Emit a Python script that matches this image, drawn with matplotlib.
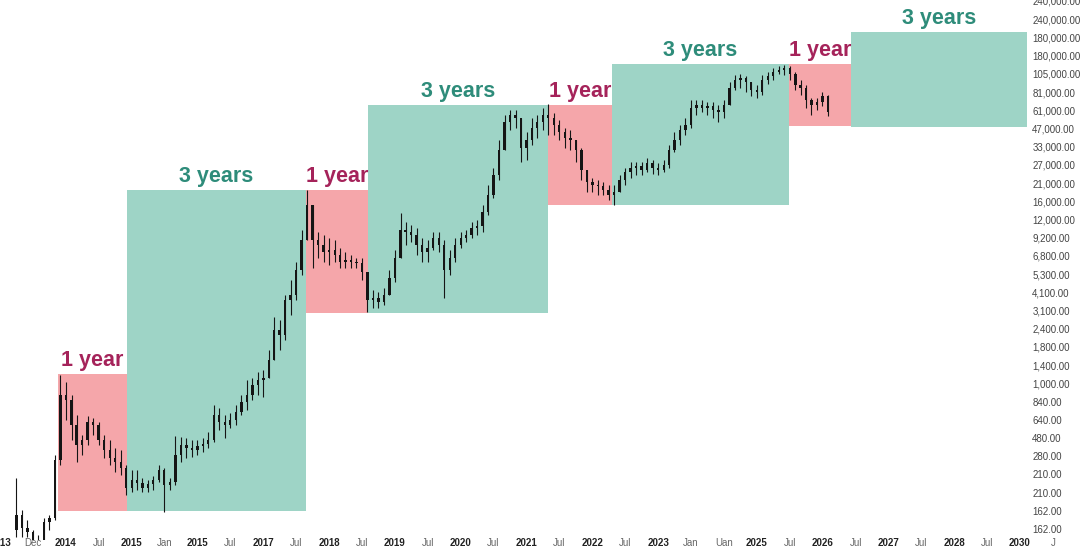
import numpy as np
import pandas as pd
import matplotlib
matplotlib.use('Agg')
import matplotlib.pyplot as plt
import matplotlib.dates as mdates

plt.rcParams['font.family'] = ['Liberation Sans', 'DejaVu Sans']

# monthly candles (open = previous close)
first_open = 160
closes = [197, 164, 155, 139, 130, 179, 189, 422, 1040, 969,
          685, 519, 556, 714, 685, 556, 484, 434, 410, 377,
          286, 320, 307, 286, 302, 320, 367, 298, 311, 452,
          519, 498, 484, 512, 527, 556, 787, 714, 685, 734,
          820, 942, 1040, 1190, 1280, 1310, 1690, 2560, 2390, 3880,
          4150, 5870, 8900, 14500, 8900, 8310, 7540, 7750, 7230, 6560,
          6740, 6560, 6470, 5710, 3880, 3980, 3770, 4150, 5260, 6940,
          10200, 9950, 9540, 8310, 7540, 7970, 9160, 8310, 5870, 6940,
          8310, 9160, 9540, 10500, 10800, 13100, 16600, 21900, 31000, 45700,
          50300, 48300, 31900, 35600, 42100, 45700, 50300, 48300, 43800, 39800,
          36600, 35600, 31000, 23500, 19900, 19100, 18800, 17800, 16600, 17300,
          20500, 22900, 24200, 24800, 23500, 25900, 24200, 23500, 25200, 31000,
          35600, 40900, 43800, 55500, 57900, 55500, 57100, 54000, 52500, 57900,
          73200, 81800, 84100, 79600, 71200, 69300, 81800, 86400, 91400, 94000,
          96600, 88900, 76300, 73200, 62000, 57900, 60300, 65500, 52500]
highs = [329, 211, 184, 160, 149, 189, 197, 452, 1370, 1240,
         1040, 787, 596, 776, 755, 714, 596, 556, 498, 484,
         393, 367, 367, 329, 320, 338, 393, 377, 329, 588,
         580, 572, 556, 556, 572, 622, 904, 867, 787, 809,
         904, 1040, 1280, 1310, 1430, 1470, 1940, 3060, 2940, 4150,
         5110, 6560, 10200, 17800, 14500, 9950, 9540, 9160, 8900, 7970,
         7540, 7230, 6940, 6940, 5710, 4450, 4330, 4580, 5870, 7750,
         12900, 11400, 11000, 10500, 9160, 8900, 9950, 9950, 8900, 7750,
         9160, 9950, 10200, 11400, 11700, 14500, 19100, 24200, 35600, 50300,
         54000, 54000, 43800, 39800, 48300, 50300, 55500, 58600, 51800, 47000,
         42100, 40900, 35600, 31900, 21900, 21000, 20500, 19900, 19100, 19100,
         21900, 24200, 26300, 26300, 26300, 27700, 27000, 25900, 27000, 33200,
         39800, 43800, 48300, 62000, 62000, 62000, 60300, 60300, 57900, 62000,
         79600, 87700, 88900, 86400, 79600, 76300, 87700, 91400, 96600, 99300,
         100700, 99300, 91400, 81800, 76300, 63800, 63800, 69300, 66500]
lows = [145, 145, 145, 130, 124, 145, 160, 184, 393, 734,
        556, 410, 452, 519, 596, 519, 434, 393, 357, 342,
        260, 271, 278, 271, 271, 278, 311, 205, 278, 298,
        410, 434, 440, 452, 471, 498, 541, 639, 572, 657,
        685, 787, 843, 969, 1040, 1010, 1310, 1810, 1940, 2230,
        3150, 3880, 5480, 8900, 6040, 6940, 6560, 6290, 6560, 6040,
        6040, 6040, 6040, 5110, 3280, 3470, 3470, 3620, 4150, 4980,
        6940, 8310, 8660, 7230, 6560, 6560, 7750, 7540, 3980, 5480,
        6560, 7970, 8660, 9160, 9540, 9950, 12600, 15900, 20500, 31000,
        40900, 42100, 26300, 27000, 33200, 36600, 40900, 38200, 38200, 35600,
        31900, 31000, 26300, 20500, 17300, 17300, 16600, 16600, 15500, 14500,
        17300, 19100, 21000, 21900, 21900, 22900, 22200, 21900, 22900, 24200,
        30200, 33200, 38200, 42100, 50300, 52500, 50300, 48300, 45700, 48300,
        57900, 71200, 73200, 69300, 65500, 63800, 66500, 77400, 81800, 88900,
        87700, 81800, 71200, 66500, 55500, 50300, 54000, 57100, 49600]

# cycle boxes
box_starts = ['2013-11-16', '2014-12-04', '2017-08-24', '2018-08-03',
              '2021-04-29', '2022-04-19', '2024-12-27', '2025-12-05']
box_ends = ['2014-12-04', '2017-08-24', '2018-08-03', '2021-04-29',
            '2022-04-19', '2024-12-27', '2025-12-05', '2028-08-08']
box_lows = [208, 208, 3240, 3240, 14500, 14500, 43200, 42600]
box_highs = [1390, 17800, 17800, 57900, 57900, 102000, 102000, 159000]
box_labels = ['1 year', '3 years', '1 year', '3 years',
              '1 year', '3 years', '1 year', '3 years']

# axis labels as they appear
x_tick_labels = ['2013', 'Dec', '2014', 'Jul', '2015', 'Jan', '2015', 'Jul', '2017',
                 'Jul', '2018', 'Jul', '2019', 'Jul', '2020', 'Jul', '2021', 'Jul',
                 '2022', 'Jul', '2023', 'Jan', 'Uan', '2025', 'Jul', '2026', 'Jul',
                 '2027', 'Jul', '2028', 'Jul', '2030', 'J']
y_tick_labels = ['240,000.00', '240,000.00', '180,000.00', '180,000.00', '105,000.00',
                 '81,000.00', '61,000.00', '47,000.00', '33,000.00', '27,000.00',
                 '21,000.00', '16,000.00', '12,000.00', '9,200.00', '6,800.00',
                 '5,300.00', '4,100.00', '3,100.00', '2,400.00', '1,800.00',
                 '1,400.00', '1,000.00', '840.00', '640.00', '480.00',
                 '280.00', '210.00', '210.00', '162.00', '162.00']

pink = '#f5a6aa'
green = '#9ed4c6'
pink_text = '#a5235a'
green_text = '#2e8c7a'

fig = plt.figure(figsize=(10.85, 5.49), dpi=100)
ax = fig.add_axes([0, 0.0164, 1, 0.9836])
ax.set_yscale('log')

for i in range(len(box_starts)):
    x0 = mdates.date2num(pd.Timestamp(box_starts[i]))
    x1 = mdates.date2num(pd.Timestamp(box_ends[i]))
    col = pink if box_labels[i] == '1 year' else green
    tcol = pink_text if box_labels[i] == '1 year' else green_text
    ax.fill_between([x0, x1], [box_lows[i]] * 2, [box_highs[i]] * 2,
                    color=col, lw=0, zorder=1)
    ax.annotate(box_labels[i], xy=((x0 + x1) / 2, box_highs[i]), xytext=(0, 2),
                textcoords='offset points', ha='center', va='bottom',
                fontsize=15.5, fontweight='bold', color=tcol, zorder=4)

dates = mdates.date2num(pd.date_range('2013-04-01', periods=len(closes), freq='MS'))
c = np.array(closes, dtype=float)
o = np.concatenate([[first_open], c[:-1]])
h = np.maximum(np.array(highs, dtype=float), np.maximum(o, c))
l = np.minimum(np.array(lows, dtype=float), np.minimum(o, c))
ax.vlines(dates, l, h, color='#151515', lw=0.8, zorder=3)
ax.bar(dates, np.abs(c - o), bottom=np.minimum(o, c), width=13,
       color='#151515', lw=0, zorder=3)

ax.set_xlim(mdates.date2num(pd.Timestamp('2012-12-31')),
            mdates.date2num(pd.Timestamp('2029-06-27')))
ax.set_ylim(139, 248000)

xt = mdates.date2num(pd.date_range('2013-01-01', periods=len(x_tick_labels), freq='6MS'))
ax.set_xticks(xt)
ax.set_xticklabels(x_tick_labels)
for t in ax.get_xticklabels():
    if t.get_text().isdigit():
        t.set_fontweight('bold')
        t.set_color('#222222')
    else:
        t.set_color('#666666')

ax.yaxis.tick_right()
ax.set_yticks(np.geomspace(244600, 162, len(y_tick_labels)))
ax.set_yticklabels(y_tick_labels)
ax.minorticks_off()
ax.tick_params(axis='x', length=0, pad=-1.2, labelsize=7)
ax.tick_params(axis='y', length=0, pad=-38, labelsize=7, labelcolor='#444444')
for s in ax.spines.values():
    s.set_visible(False)

fig.savefig('out.png', dpi=100)
